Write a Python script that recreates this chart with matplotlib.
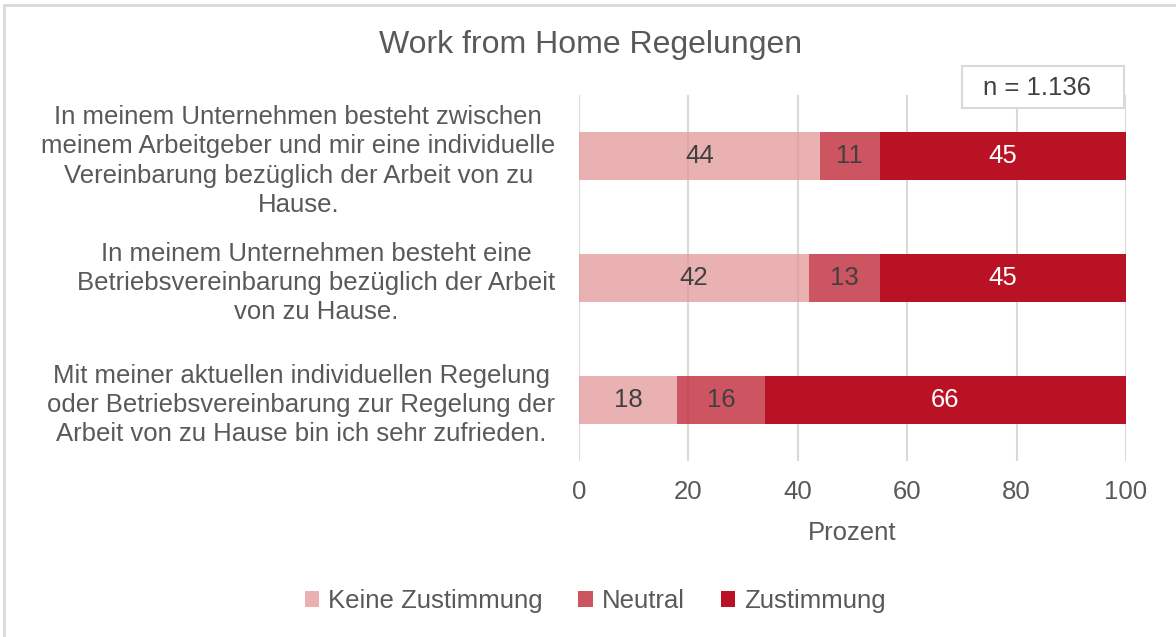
import matplotlib.pyplot as plt
from matplotlib.patches import Rectangle

plt.rcParams['font.family'] = ['Liberation Sans', 'DejaVu Sans']

categories = [
    "In meinem Unternehmen besteht zwischen\nmeinem Arbeitgeber und mir eine individuelle\nVereinbarung bezüglich der Arbeit von zu\nHause.",
    "In meinem Unternehmen besteht eine\nBetriebsvereinbarung bezüglich der Arbeit\nvon zu Hause.",
    "Mit meiner aktuellen individuellen Regelung\noder Betriebsvereinbarung zur Regelung der\nArbeit von zu Hause bin ich sehr zufrieden.",
]
keine = [44, 42, 18]
neutral = [11, 13, 16]
zustimmung = [45, 45, 66]
series_names = ["Keine Zustimmung", "Neutral", "Zustimmung"]
# semi-transparent fills so the grid shows through the lighter segments
colors = ["#E49798", "#C43745", "#B91224"]
alphas = [0.75, 0.85, 1.0]
label_colors = ["#404040", "#404040", "#FFFFFF"]
text_gray = "#595959"
fs = 18.5

fig = plt.figure(figsize=(11.76, 6.37), dpi=100)
ax = fig.add_axes([579 / 1176, 1 - 461 / 637, 547 / 1176, (461 - 95) / 637])

ypos = [0, 1, 2]
left = [0, 0, 0]
for vals, name, col, a, lc in zip([keine, neutral, zustimmung], series_names, colors, alphas, label_colors):
    ax.barh(ypos, vals, left=left, height=0.4, color=col, alpha=a, label=name, zorder=2)
    for y, v, l in zip(ypos, vals, left):
        ax.text(l + v / 2, y, str(v), ha='center', va='center', color=lc, fontsize=fs, zorder=3)
    left = [p + q for p, q in zip(left, vals)]

ax.set_xlim(0, 100)
ax.set_ylim(2.5, -0.5)
ax.set_xticks([0, 20, 40, 60, 80, 100])
ax.tick_params(axis='x', length=0, labelsize=fs, labelcolor=text_gray, pad=14)
ax.set_yticks(ypos)
ax.set_yticklabels(categories, multialignment='center', linespacing=1.28)
ax.tick_params(axis='y', length=0, labelsize=fs, labelcolor=text_gray, pad=17)
ax.grid(axis='x', color='#D9D9D9', linewidth=1.5, zorder=1)
ax.set_axisbelow(True)
for s in ax.spines.values():
    s.set_visible(False)
ax.set_xlabel("Prozent", fontsize=fs, color=text_gray, labelpad=12)

fig.text(591 / 1176, 1 - 45 / 637, "Work from Home Regelungen", ha='center', va='center',
         fontsize=23, color=text_gray)

# n box
fig.patches.append(Rectangle((962 / 1176, 1 - 108 / 637), 162 / 1176, 42 / 637,
                             transform=fig.transFigure, facecolor='white',
                             edgecolor='#D9D9D9', linewidth=1.5, zorder=5))
fig.text(1037 / 1176, 1 - 88 / 637, "n = 1.136", ha='center', va='center', fontsize=fs,
         color='#404040', zorder=6)

leg = fig.legend(loc='center', bbox_to_anchor=(595 / 1176, 1 - 601 / 637), ncol=3, frameon=False,
                 fontsize=fs, labelcolor=text_gray, handlelength=0.55, handleheight=0.55,
                 handletextpad=0.35, columnspacing=1.4)
for h in leg.legend_handles:
    h.set_alpha(1)
leg.legend_handles[0].set_facecolor("#EBB1B2")
leg.legend_handles[1].set_facecolor("#CD5561")

fig.patches.append(Rectangle((4 / 1176, -0.1), 1.2, 1 - 5 / 637 + 0.1, transform=fig.transFigure,
                             fill=False, edgecolor='#D9D9D9', linewidth=2))

fig.savefig("out.png", dpi=100)
